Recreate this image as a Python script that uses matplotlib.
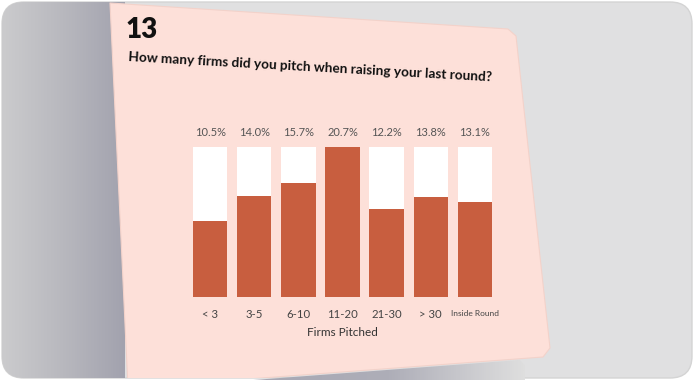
import numpy as np
import matplotlib
matplotlib.use("Agg")
import matplotlib.pyplot as plt
from matplotlib.patches import Polygon, FancyBboxPatch
from matplotlib.colors import LinearSegmentedColormap

categories = ["< 3", "3-5", "6-10", "11-20", "21-30", "> 30", "Inside Round"]
values = [10.5, 14.0, 15.7, 20.7, 12.2, 13.8, 13.1]
value_labels = ["10.5%", "14.0%", "15.7%", "20.7%", "12.2%", "13.8%", "13.1%"]
chart_number = "13"
question = "How many firms did you pitch when raising your last round?"
xlabel = "Firms Pitched"

W, H = 694, 380
fig = plt.figure(figsize=(W / 100, H / 100), dpi=100)
fig.patch.set_facecolor("white")

bg = fig.add_axes([0, 0, 1, 1])
bg.set_xlim(0, W)
bg.set_ylim(H, 0)
bg.axis("off")

frame = FancyBboxPatch((2, 2), W - 4, H - 4, boxstyle="round,pad=0,rounding_size=22",
                       facecolor="#e0e0e1", edgecolor="#d4d4d4", linewidth=1.0, zorder=0)
bg.add_patch(frame)

# left shadow gradient
grad = np.repeat(np.linspace(0, 1, 200)[None, :], 2, axis=0)
cmap = LinearSegmentedColormap.from_list("sh", ["#cbcbcd", "#b8b8be", "#a2a2ae"])
im = bg.imshow(grad, extent=(2, 125, H - 2, 2), cmap=cmap, aspect="auto", zorder=1)
im.set_clip_path(frame)

# bottom shadow below card
cmap2 = LinearSegmentedColormap.from_list("sh2", ["#a6a6b2", "#a8a8b4", "#aeaeb8", "#dedede"])
grad2 = np.repeat(np.linspace(0, 1, 300)[None, :], 2, axis=0)
im2 = bg.imshow(grad2, extent=(120, 525, H, 340), cmap=cmap2, aspect="auto", zorder=1)
shpoly = Polygon([(120, 390), (520, 360), (540, 382), (120, 390)], closed=True,
                 facecolor="none", edgecolor="none")
bg.add_patch(shpoly)
im2.set_clip_path(shpoly)

# card
card = Polygon([(110, 3), (508, 29), (516, 36), (550, 348), (543, 357), (128, 388)],
               closed=True, facecolor="#fde0d9", edgecolor="#f3d2ca", linewidth=0.8,
               joinstyle="round", zorder=2)
bg.add_patch(card)
card.set_clip_path(frame)

bg.text(126, 30, chart_number, fontsize=20, fontweight="heavy", family="Lato",
        color="#111111", ha="left", va="center", zorder=3)
bg.text(128, 57, question, fontsize=9.8, fontweight="bold", family="Lato",
        color="#111111", ha="left", va="center", rotation=-3.2,
        rotation_mode="anchor", zorder=3)

ax = fig.add_axes([188 / W, 1 - 297 / H, 309 / W, (297 - 147) / H])
ax.set_facecolor("none")
x = np.arange(len(categories))
vmax = max(values)
ax.bar(x, [1.0] * len(values), width=0.78, color="white", zorder=1)
ax.bar(x, [v / vmax for v in values], width=0.78, color="#c85e3f", zorder=2)
ax.set_xlim(-0.5, len(categories) - 0.5)
ax.set_ylim(0, 1)
for xi, lab in zip(x, value_labels):
    ax.text(xi, 1.06, lab, ha="center", va="bottom", fontsize=8, family="Lato",
            color="#555555")
ax.set_xticks(x)
ax.set_xticklabels(categories, family="Lato", color="#444444", fontsize=8.2)
for t in ax.get_xticklabels():
    if t.get_text() == "Inside Round":
        t.set_fontsize(6)
ax.tick_params(axis="x", length=0, pad=9)
ax.set_yticks([])
for s in ax.spines.values():
    s.set_visible(False)
ax.set_xlabel(xlabel, family="Lato", color="#333333", fontsize=8.5, labelpad=5)

fig.savefig("out.png", dpi=100)
